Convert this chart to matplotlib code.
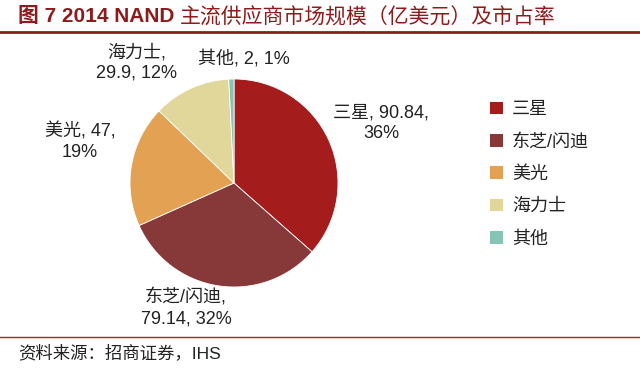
import matplotlib.pyplot as plt
from matplotlib.lines import Line2D
from matplotlib.patches import Patch

plt.rcParams['font.family'] = ['Liberation Sans', 'Noto Sans CJK SC', 'DejaVu Sans']

vendors = ['三星', '东芝/闪迪', '美光', '海力士', '其他']
sales = [90.84, 79.14, 47, 29.9, 2]
shares = ['36%', '32%', '19%', '12%', '1%']
colors = ['#A41C1C', '#87393A', '#E3A154', '#E2D79B', '#86C5B5']

W, H = 640, 371
fig = plt.figure(figsize=(W / 100, H / 100), dpi=100)

def px(x, y):
    return x / W, 1 - y / H

# pie axes: centre ~ (234,183), radius ~104 px
r = 104
ax = fig.add_axes([(234 - r) / W, (H - 183 - r) / H, 2 * r / W, 2 * r / H])
ax.pie(sales, colors=colors, startangle=90, counterclock=False,
       wedgeprops=dict(linewidth=0.6, edgecolor='white'))
ax.set_xlim(-1, 1)
ax.set_ylim(-1, 1)
ax.axis('off')

# data labels
label_pos = [(381, 123), (186, 308), (80, 142), (137, 63), (244, 59)]
label_txt = [
    f'{vendors[0]}, {sales[0]},\n{shares[0]}',
    f'{vendors[1]},\n{sales[1]}, {shares[1]}',
    f'{vendors[2]}, {sales[2]},\n{shares[2]}',
    f'{vendors[3]},\n{sales[3]}, {shares[3]}',
    f'{vendors[4]}, {sales[4]:g}, {shares[4]}',
]
for (x, y), t in zip(label_pos, label_txt):
    fig.text(*px(x, y), t, ha='center', va='center', fontsize=13,
             color='#222222', linespacing=1.25)

# legend
handles = [Patch(facecolor=c, edgecolor='none') for c in colors]
leg = fig.legend(handles, vendors, loc='upper left',
                 bbox_to_anchor=px(474, 85), frameon=False, fontsize=13,
                 handlelength=0.7, handleheight=0.7, handletextpad=0.5,
                 labelspacing=0.85)
for t in leg.get_texts():
    t.set_color('#222222')

# title and rules
t1 = fig.text(*px(18, 17), '图 7 2014 NAND ', ha='left', va='center',
              fontsize=15, fontweight='bold', color='#8E1B1B')
fig.canvas.draw()
bb = t1.get_window_extent()
fig.text(bb.x1 / W, 1 - 17 / H, '主流供应商市场规模（亿美元）及市占率',
         ha='left', va='center', fontsize=15, color='#8E1B1B')
fig.add_artist(Line2D([0, 1], [1 - 32 / H] * 2, color='#8E1B1B', lw=2))
fig.add_artist(Line2D([0, 1], [1 - 337 / H] * 2, color='#B22222', lw=1))
fig.text(*px(18, 353), '资料来源：招商证券，IHS', ha='left', va='center',
         fontsize=12.5, color='#222222')

fig.savefig('out.png', dpi=100, facecolor='white')
